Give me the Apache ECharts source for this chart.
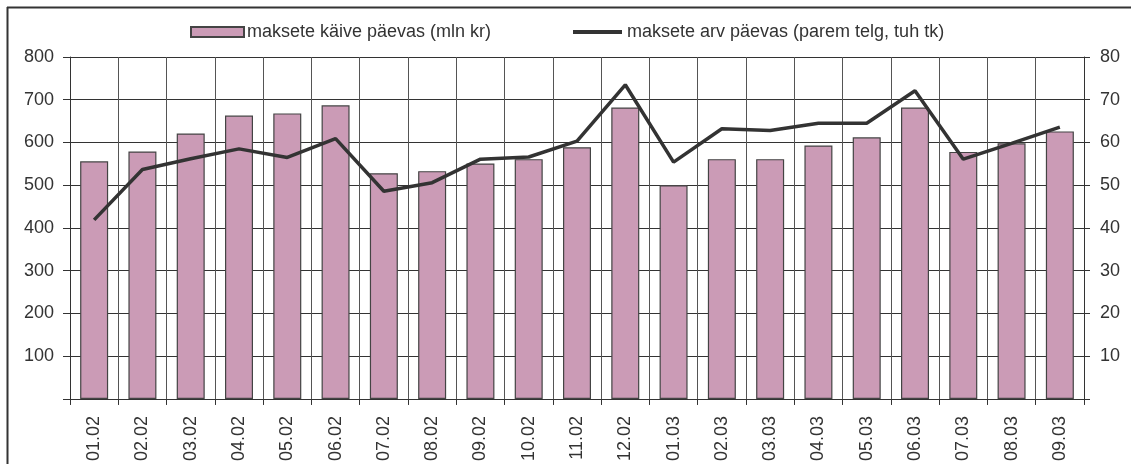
<!DOCTYPE html>
<html>
<head>
<meta charset="utf-8">
<script src="https://cdn.jsdelivr.net/npm/echarts@6/dist/echarts.min.js"></script>
<style>
  html, body { margin: 0; padding: 0; background: #fff; }
  #chart { width: 1131px; height: 464px; }
</style>
</head>
<body>
<div id="chart"></div>
<script>
(function () {
    'use strict';

    var months = [
        '01.02', '02.02', '03.02', '04.02', '05.02', '06.02', '07.02',
        '08.02', '09.02', '10.02', '11.02', '12.02', '01.03', '02.03',
        '03.03', '04.03', '05.03', '06.03', '07.03', '08.03', '09.03'
    ];

    // maksete käive päevas (mln kr), left axis
    var turnover = [
        556, 579, 621, 663, 668, 687, 528,
        533, 551, 561, 589, 682, 500, 561,
        561, 593, 612, 682, 578, 598, 626
    ];

    // maksete arv päevas (tuh tk), right axis
    var payments = [
        41.9, 53.7, 56.2, 58.5, 56.5, 60.9, 48.6,
        50.6, 56.1, 56.6, 60.3, 73.5, 55.4, 63.2,
        62.8, 64.5, 64.5, 72.1, 56.1, 59.8, 63.6
    ];

    var leftTicks = { min: 0, max: 800, interval: 100 };
    var rightTicks = { min: 0, max: 80, interval: 10 };

    var NAME_BAR = 'maksete käive päevas (mln kr)';
    var NAME_LINE = 'maksete arv päevas (parem telg, tuh tk)';

    var FONT = 'Liberation Sans, Arial, sans-serif';
    var TEXT = '#333';
    var BAR = '#cb9bb6';
    var FS = 18;

    function hideZero(v) { return v === 0 ? '' : String(v); }

    var chart = echarts.init(document.getElementById('chart'));

    chart.setOption({
        animation: false,
        backgroundColor: '#fff',
        textStyle: { fontFamily: FONT },
        graphic: [
            // outer frame (top and left edges visible)
            { type: 'line', shape: { x1: 7, y1: 7.5, x2: 1131, y2: 7.5 },
              style: { stroke: '#333', lineWidth: 2 } },
            { type: 'line', shape: { x1: 7.5, y1: 7, x2: 7.5, y2: 464 },
              style: { stroke: '#333', lineWidth: 2 } }
        ],
        legend: [{
            data: [NAME_BAR],
            left: 190,
            top: 23,
            padding: 0,
            itemWidth: 53,
            itemHeight: 10,
            itemGap: 0,
            icon: 'rect',
            textStyle: { fontSize: FS, color: TEXT, fontFamily: FONT, padding: [0, 0, 0, -2] }
        }, {
            data: [NAME_LINE],
            left: 573,
            top: 23,
            padding: 0,
            itemWidth: 49,
            itemHeight: 4,
            icon: 'rect',
            textStyle: { fontSize: FS, color: TEXT, fontFamily: FONT }
        }],
        grid: { left: 70, right: 47, top: 57, bottom: 65, containLabel: false },
        xAxis: {
            type: 'category',
            data: months,
            boundaryGap: true,
            axisLine: { lineStyle: { color: '#333', width: 1 } },
            axisTick: { show: true, length: 6, lineStyle: { color: '#333' } },
            splitLine: { show: true, lineStyle: { color: '#555', width: 1 } },
            axisLabel: {
                rotate: 90,
                margin: 17,
                fontSize: FS,
                color: TEXT,
                fontFamily: FONT
            }
        },
        yAxis: [{
            type: 'value',
            min: leftTicks.min,
            max: leftTicks.max,
            interval: leftTicks.interval,
            axisLine: { show: true, lineStyle: { color: '#333' } },
            axisTick: { show: true, inside: false, length: 7, lineStyle: { color: '#333' } },
            splitLine: { show: true, lineStyle: { color: '#333', width: 1 } },
            axisLabel: { fontSize: FS, color: TEXT, margin: 16, formatter: hideZero, fontFamily: FONT }
        }, {
            type: 'value',
            position: 'right',
            min: rightTicks.min,
            max: rightTicks.max,
            interval: rightTicks.interval,
            axisLine: { show: true, lineStyle: { color: '#333' } },
            axisTick: { show: true, length: 6, lineStyle: { color: '#333' } },
            splitLine: { show: false },
            axisLabel: { fontSize: FS, color: TEXT, margin: 16, formatter: hideZero, fontFamily: FONT }
        }],
        series: [{
            name: NAME_BAR,
            type: 'bar',
            yAxisIndex: 0,
            data: turnover,
            barWidth: 28,
            itemStyle: { color: BAR, borderColor: '#444', borderWidth: 1.2 }
        }, {
            name: NAME_LINE,
            type: 'line',
            yAxisIndex: 1,
            data: payments,
            symbol: 'none',
            showSymbol: false,
            itemStyle: { color: '#333' },
            lineStyle: { color: '#333', width: 3.5 },
            z: 5
        }]
    });
})();
</script>
</body>
</html>
